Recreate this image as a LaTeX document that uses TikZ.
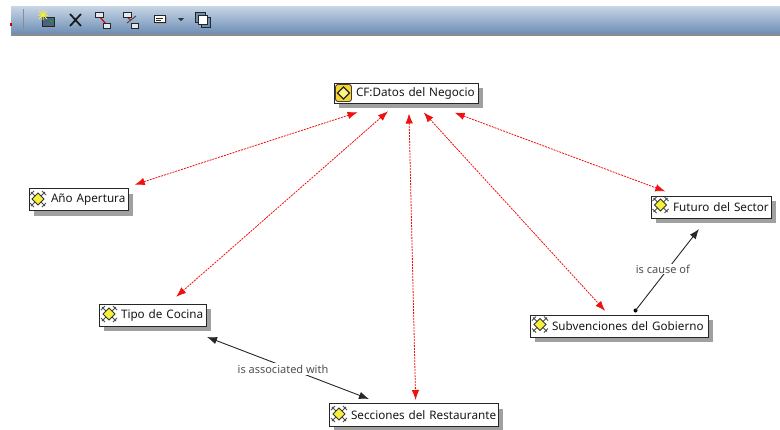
\documentclass[tikz,border=0pt]{standalone}
\usepackage{fontspec}
\setmainfont{Noto Sans}
\usetikzlibrary{arrows.meta,shadows}
\definecolor{shadowgray}{HTML}{A0A0A0}
\definecolor{textgray}{HTML}{505050}
\definecolor{barTop}{HTML}{C8D6E6}
\definecolor{barBot}{HTML}{6C8DB4}
\definecolor{edgered}{HTML}{F01010}
\definecolor{iconyellow}{HTML}{F6F03A}
\tikzset{
  conceptbox/.style={draw=black!85,line width=1pt,fill=white,inner xsep=0pt,inner ysep=0pt,align=left,font=\fontsize{11.7}{13}\selectfont,text=black!90,
    general shadow={fill=shadowgray,shadow xshift=5pt,shadow yshift=-5pt}},
  redlink/.style={draw=edgered,line width=.8pt,dash pattern=on 2pt off 1pt,{Latex[length=10pt,width=7.5pt,fill=edgered]}-{Latex[length=10pt,width=7.5pt,fill=edgered]}},
  blacklink/.style={draw=black!85,line width=.9pt,-{Latex[length=10pt,width=7.5pt]}},
  linklabel/.style={fill=white,text=textgray,inner xsep=2pt,inner ysep=2pt,font=\fontsize{11}{12}\selectfont},
  iconpart/.style={draw=black!70,line width=1pt},
  tool/.style={draw=black!85,line width=1pt,fill=white!80!barBot}
}
\newcommand{\conceptnode}[6]{% name, x, y, w, h, text
  \node[conceptbox,text width=#4pt,minimum height=#5pt] (#1) at (#2,#3) {\hspace*{22pt}\mbox{#6}};}
\newcommand{\conicon}[2]{% x,y of icon centre
  \begin{scope}[shift={(#1,#2)}]
    \draw[iconpart] (-7,-7) -- (7,7) (-7,7) -- (7,-7) (-4,-8) -- (-8,-4) (4,-8) -- (8,-4) (-4,8) -- (-8,4) (4,8) -- (8,4);
    \draw[draw=black!80,fill=iconyellow,line width=.8pt] (0,-6) -- (6,0) -- (0,6) -- (-6,0) -- cycle;
  \end{scope}}
\begin{document}
\begin{tikzpicture}[x=1pt,y=-1pt]
\useasboundingbox (0,0) rectangle (780,429);
% toolbar
\shade[top color=barTop,bottom color=barBot] (11,6) rectangle (780,34);
\fill[black!45] (11,34) rectangle (780,36);
\fill[red!80!black] (10,23) rectangle (12,26);
\draw[black!45,line width=.8pt] (23.5,9) -- (23.5,30);
% new concept tool
\draw[draw=black!85,fill=barBot!70!black,line width=1pt] (42,17) rectangle (54,26);
\fill[green!70!black] (50,20) rectangle (53,21.5);
\draw[iconyellow,line width=1pt] (39,11) -- (47,19) (47,11) -- (39,19) (43,10) -- (43,20) (38,15) -- (48,15);
% delete tool
\draw[black!90,line width=1.7pt] (70,14) -- (81,26) (81,14) -- (70,26);
% link tools
\draw[red!85!black,line width=1.2pt] (100,17) -- (106,24);
\draw[tool] (95,12) rectangle (103,17);
\draw[tool] (103,23) rectangle (110,28);
\draw[red!85!black,line width=1pt] (128,18) -- (131,20);
\draw[black!70,line width=1pt] (127,23) -- (136,16);
\draw[tool] (123,12) rectangle (131,17);
\draw[tool] (131,23) rectangle (138,28);
% note tool
\fill[black!40] (156,17) rectangle (167,24);
\draw[draw=black!85,fill=white,line width=1pt] (154,15) rectangle (165,22);
\draw[black!85,line width=.8pt] (156,18) -- (163,18) (156,20) -- (161,20);
\fill[black!80] (178,18) -- (184,18) -- (181,21) -- cycle;
% copy tool
\draw[tool,fill=barBot] (195,12) rectangle (205,22);
\draw[tool,fill=barBot] (201,17) rectangle (210,27);
\draw[draw=black!85,fill=white,line width=1pt] (198,15) rectangle (207,24);
% nodes
\conceptnode{cf}{406}{93}{144}{20}{CF:Datos del Negocio}
\conceptnode{ano}{78.5}{199.5}{99}{22}{Año Apertura}
\conceptnode{futuro}{711}{207}{120}{22}{Futuro del Sector}
\conceptnode{tipo}{152.5}{315}{107}{22}{Tipo de Cocina}
\conceptnode{subv}{619}{326}{178}{22}{Subvenciones del Gobierno}
\conceptnode{secc}{413.5}{415}{169}{23}{Secciones del Restaurante}
% icons
\fill[iconyellow!75!orange,draw=black!75,line width=.9pt,rounded corners=2.5pt] (335.5,84.5) rectangle (351.5,101.5);
\draw[black!85,fill=white!40!iconyellow,line width=1.1pt] (343.5,87) -- (349.5,93) -- (343.5,99) -- (337.5,93) -- cycle;
\conicon{38}{199}
\conicon{660.5}{205}
\conicon{109}{314}
\conicon{540}{324.5}
\conicon{339}{414}
% red links
\draw[redlink,transform canvas={yshift=-3.5pt},shorten <=17pt,shorten >=22pt] (cf) -- (ano);
\draw[redlink,transform canvas={yshift=-2.5pt},shorten <=8pt,shorten >=14pt] (cf) -- (tipo);
\draw[redlink,transform canvas={xshift=2.5pt},shorten <=10pt,shorten >=3pt] (cf) -- (secc);
\draw[redlink,shorten <=12pt,shorten >=5pt] (cf) -- (subv);
\draw[redlink,transform canvas={yshift=-1.5pt},shorten <=22pt,shorten >=16pt] (cf) -- (futuro);
% black links
\coordinate (tipoEnd) at (207,337);
\coordinate (seccEnd) at (369,399);
\draw[blacklink,{Latex[length=10pt,width=7.5pt]}-{Latex[length=10pt,width=7.5pt]}] (tipoEnd) -- node[linklabel,xshift=-5pt,yshift=-1pt] (assoc) {is associated with} (seccEnd);
\fill[black] (635.5,310.5) circle (2);
\coordinate (subvStart) at (635.5,310.5);
\coordinate (futEnd) at (699,229);
\draw[blacklink] (subvStart) -- node[linklabel,pos=.51,xshift=-5pt,inner ysep=1pt] (cause) {is cause of} (futEnd);
\end{tikzpicture}
\end{document}
